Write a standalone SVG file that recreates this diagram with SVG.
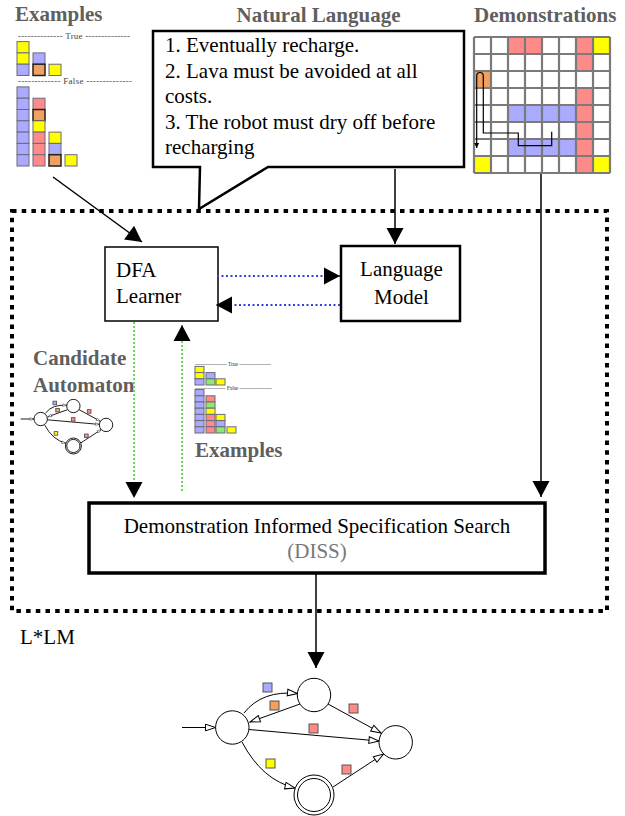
<svg xmlns="http://www.w3.org/2000/svg" xmlns:xlink="http://www.w3.org/1999/xlink" width="625" height="816" viewBox="0 0 625 816">
<style>
.t{font-family:"Liberation Serif","Times New Roman",serif;font-size:21px;fill:#000}
.h{font-weight:bold;fill:#5f5f5f}
.sm{font-family:"Liberation Serif","Times New Roman",serif;fill:#444}
.c{stroke:#6a6a7a;stroke-width:1}
.ck{stroke:#222;stroke-width:1.5}
.B{fill:#aaaaff}.P{fill:#ff8a8a}.Y{fill:#ffff00}.O{fill:#f0a060}.G{fill:#8ee870}
.ln{fill:none;stroke:#000;stroke-width:1.5}
.gd{fill:none;stroke:#66dd55;stroke-width:2;stroke-dasharray:2 2}
.bd{fill:none;stroke:#3344dd;stroke-width:2;stroke-dasharray:2 2.5}
.an{fill:none;stroke:#000}
.st{fill:#fff;stroke:#000}
.sq{stroke:#555}
</style>
<defs>
<marker id="ah" markerUnits="userSpaceOnUse" markerWidth="16" markerHeight="17" refX="16" refY="8.5" orient="auto" overflow="visible">
<path d="M0,0 L16,8.5 L0,17 z" fill="#000"/>
</marker>
<marker id="sa" markerUnits="userSpaceOnUse" markerWidth="5" markerHeight="5" refX="5" refY="2.5" orient="auto" overflow="visible">
<path d="M0,0 L5,2.5 L0,5 z" fill="#000"/>
</marker>
<marker id="oa" markerUnits="userSpaceOnUse" markerWidth="11" markerHeight="8" refX="10.5" refY="3.8" orient="auto" overflow="visible">
<path d="M0.5,0.5 L10.5,3.8 L0.5,7.1 z" fill="#fff" stroke="#000" stroke-width="1"/>
</marker>
<g id="auto">
<path class="an" d="M182,727.5 L215.5,727.5" marker-end="url(#oa)"/>
<path class="an" d="M244,713 Q262,690 297.5,693.5" marker-end="url(#oa)"/>
<path class="an" d="M300,704 L250,722" marker-end="url(#oa)"/>
<path class="an" d="M328,704 L381,733" marker-end="url(#oa)"/>
<path class="an" d="M249,729.5 L379,741" marker-end="url(#oa)"/>
<path class="an" d="M242,742 Q262,780 295,788" marker-end="url(#oa)"/>
<path class="an" d="M333,787 L383.5,754" marker-end="url(#oa)"/>
<circle class="st" cx="232.3" cy="727.5" r="16.7"/>
<circle class="st" cx="314" cy="695" r="16.7"/>
<circle class="st" cx="395.7" cy="742.3" r="16.7"/>
<circle class="st" cx="314" cy="795" r="20"/>
<circle class="st" cx="314" cy="795" r="16.5"/>
<rect class="sq B" x="263" y="683" width="9" height="9"/>
<rect class="sq O" x="270" y="701" width="9" height="9"/>
<rect class="sq P" x="349" y="704" width="9" height="9"/>
<rect class="sq P" x="309" y="724" width="9" height="9"/>
<rect class="sq Y" x="266" y="759" width="9" height="9"/>
<rect class="sq P" x="342" y="765" width="9" height="9"/>
</g>
</defs>

<g id="frame">
<rect x="12" y="211" width="595" height="400" fill="none" stroke="#000" stroke-width="4" stroke-dasharray="4.5 5.2"/>
<text class="t" x="20" y="644">L*LM</text>
</g>

<g id="examples-top">
<text class="t h" x="15" y="21">Examples</text>
<text class="sm" x="18" y="39" font-size="9" textLength="112" lengthAdjust="spacing">-------------- True --------------</text>
<rect class="c Y" x="17" y="41.6" width="12" height="11.3"/>
<rect class="c Y" x="17" y="52.9" width="12" height="11.3"/>
<rect class="c B" x="17" y="64.2" width="12" height="11.3"/>
<rect class="c B" x="33" y="52.9" width="12" height="11.3"/>
<rect class="ck O" x="33" y="64.2" width="12" height="11.3"/>
<rect class="c Y" x="49" y="64.2" width="12" height="11.3"/>
<text class="sm" x="18" y="84" font-size="9" textLength="114" lengthAdjust="spacing">------------- False --------------</text>
<rect class="c B" x="17" y="86.9" width="12" height="11.3"/>
<rect class="c B" x="17" y="98.2" width="12" height="11.3"/>
<rect class="c B" x="17" y="109.5" width="12" height="11.3"/>
<rect class="c B" x="17" y="120.8" width="12" height="11.3"/>
<rect class="c B" x="17" y="132.1" width="12" height="11.3"/>
<rect class="c B" x="17" y="143.4" width="12" height="11.3"/>
<rect class="c B" x="17" y="154.7" width="12" height="11.3"/>
<rect class="c P" x="33" y="98.2" width="12" height="11.3"/>
<rect class="ck O" x="33" y="109.5" width="12" height="11.3"/>
<rect class="c Y" x="33" y="120.8" width="12" height="11.3"/>
<rect class="c P" x="33" y="132.1" width="12" height="11.3"/>
<rect class="c P" x="33" y="143.4" width="12" height="11.3"/>
<rect class="c P" x="33" y="154.7" width="12" height="11.3"/>
<rect class="c Y" x="49" y="132.1" width="12" height="11.3"/>
<rect class="c B" x="49" y="143.4" width="12" height="11.3"/>
<rect class="ck O" x="49" y="154.7" width="12" height="11.3"/>
<rect class="c Y" x="65" y="154.7" width="12" height="11.3"/>
</g>

<g id="natural-language">
<text class="t h" x="318.5" y="22" text-anchor="middle">Natural Language</text>
<path d="M153,31 H464 V167 H268 L199,209 L200,167 H153 Z" fill="#fff" stroke="#000" stroke-width="2.5" stroke-linejoin="miter"/>
<text class="t" x="165" y="52">1. Eventually recharge.</text>
<text class="t" x="165" y="77.5">2. Lava must be avoided at all</text>
<text class="t" x="165" y="103">costs.</text>
<text class="t" x="165" y="128.5">3. The robot must dry off before</text>
<text class="t" x="165" y="154">recharging</text>
</g>

<g id="demonstrations">
<text class="t h" x="474" y="22">Demonstrations</text>
<rect x="474" y="37" width="136" height="136" fill="#fff"/>
<g>
<rect class="P" x="508" y="37" width="17" height="17"/><rect class="P" x="525" y="37" width="17" height="17"/><rect class="P" x="576" y="37" width="17" height="17"/><rect class="Y" x="593" y="37" width="17" height="17"/>
<rect class="P" x="576" y="54" width="17" height="17"/>
<rect class="O" x="474" y="71" width="17" height="17"/>
<rect class="P" x="576" y="88" width="17" height="17"/>
<rect class="B" x="508" y="105" width="68" height="17"/><rect class="P" x="576" y="105" width="17" height="17"/>
<rect class="P" x="576" y="122" width="17" height="17"/>
<rect class="B" x="508" y="139" width="68" height="17"/><rect class="P" x="576" y="139" width="17" height="17"/>
<rect class="Y" x="474" y="156" width="17" height="17"/><rect class="P" x="576" y="156" width="17" height="17"/><rect class="Y" x="593" y="156" width="17" height="17"/>
</g>
<path d="M474,37 V173 M491,37 V173 M508,37 V173 M525,37 V173 M542,37 V173 M559,37 V173 M576,37 V173 M593,37 V173 M610,37 V173 M474,37 H610 M474,54 H610 M474,71 H610 M474,88 H610 M474,105 H610 M474,122 H610 M474,139 H610 M474,156 H610 M474,173 H610" fill="none" stroke="#7a7a7a" stroke-width="2.2"/>
<path d="M551.7,131.7 V145.7 H518.3 V133 H483.3 V76 Q483.3,72.5 480,72.5 Q476.7,72.5 476.7,76 V148" fill="none" stroke="#000" stroke-width="1.2" marker-end="url(#sa)"/>
</g>

<g id="dfa-learner">
<rect x="105" y="247" width="113" height="74" fill="#fff" stroke="#000" stroke-width="1.5"/>
<text class="t" x="116" y="277">DFA</text>
<text class="t" x="116" y="303">Learner</text>
</g>

<g id="language-model">
<rect x="341" y="246" width="119" height="75" fill="#fff" stroke="#000" stroke-width="2.5"/>
<text class="t" x="401.5" y="276" text-anchor="middle">Language</text>
<text class="t" x="401.5" y="304" text-anchor="middle">Model</text>
</g>

<g id="candidate-automaton">
<text class="t h" x="33" y="365">Candidate</text>
<text class="t h" x="33" y="392">Automaton</text>
<use xlink:href="#auto" href="#auto" transform="translate(40.7,419) scale(0.4) translate(-232.3,-727.5)" stroke-width="2.2"/>
</g>

<g id="examples-mid">
<text class="sm" x="195" y="366" font-size="6" textLength="76" lengthAdjust="spacing">------------------ True ------------------</text>
<rect class="c Y" x="195" y="366.4" width="9" height="6.2"/>
<rect class="c Y" x="195" y="372.6" width="9" height="6.2"/>
<rect class="c B" x="195" y="378.8" width="9" height="6.2"/>
<rect class="c B" x="206" y="372.6" width="9" height="6.2"/>
<rect class="c G" x="206" y="378.8" width="9" height="6.2"/>
<rect class="c Y" x="216" y="378.8" width="9" height="6.2"/>
<text class="sm" x="195" y="390" font-size="6" textLength="77" lengthAdjust="spacing">----------------- False ------------------</text>
<rect class="c B" x="195" y="389.6" width="9" height="6.2"/>
<rect class="c B" x="195" y="395.8" width="9" height="6.2"/>
<rect class="c B" x="195" y="402" width="9" height="6.2"/>
<rect class="c B" x="195" y="408.2" width="9" height="6.2"/>
<rect class="c B" x="195" y="414.4" width="9" height="6.2"/>
<rect class="c B" x="195" y="420.6" width="9" height="6.2"/>
<rect class="c B" x="195" y="426.8" width="9" height="6.2"/>
<rect class="c P" x="206" y="395.8" width="9" height="6.2"/>
<rect class="c G" x="206" y="402" width="9" height="6.2"/>
<rect class="c Y" x="206" y="408.2" width="9" height="6.2"/>
<rect class="c P" x="206" y="414.4" width="9" height="6.2"/>
<rect class="c P" x="206" y="420.6" width="9" height="6.2"/>
<rect class="c P" x="206" y="426.8" width="9" height="6.2"/>
<rect class="c Y" x="216" y="414.4" width="9" height="6.2"/>
<rect class="c B" x="216" y="420.6" width="9" height="6.2"/>
<rect class="c G" x="216" y="426.8" width="9" height="6.2"/>
<rect class="c Y" x="227" y="426.8" width="9" height="6.2"/>
<text class="t h" x="195" y="457">Examples</text>
</g>

<g id="diss">
<rect x="89" y="503" width="456" height="70" fill="#fff" stroke="#000" stroke-width="3.5"/>
<text class="t" x="317" y="533" text-anchor="middle">Demonstration Informed Specification Search</text>
<text class="t" x="317" y="558" text-anchor="middle" fill="#777" style="fill:#777">(DISS)</text>
</g>

<g id="result-automaton">
<use xlink:href="#auto" href="#auto" stroke-width="1"/>
</g>

<g id="connectors">
<path class="ln" d="M53,177 L142,242" marker-end="url(#ah)"/>
<path class="ln" d="M395,169 V244" marker-end="url(#ah)"/>
<path class="ln" d="M541,174 V497" marker-end="url(#ah)"/>
<path class="ln" d="M316,574 V668" marker-end="url(#ah)"/>
<path class="bd" d="M217,276 H340" marker-end="url(#ah)"/>
<path class="bd" d="M340,305 H216" marker-end="url(#ah)"/>
<path class="gd" d="M134,322 V498" marker-end="url(#ah)"/>
<path class="gd" d="M182,491 V325" marker-end="url(#ah)"/>
</g>
</svg>
